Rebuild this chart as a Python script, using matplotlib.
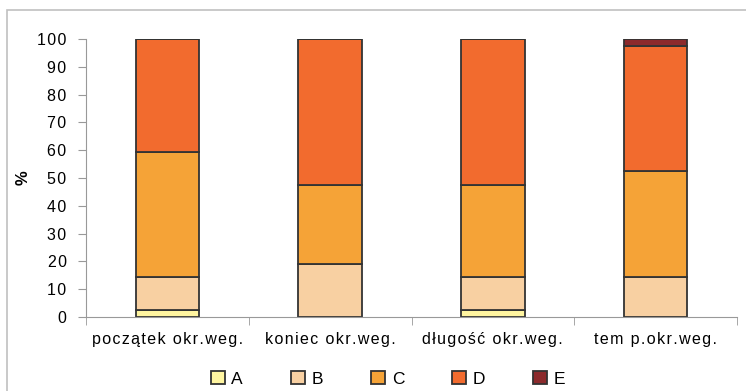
import numpy as np
import matplotlib.pyplot as plt
from matplotlib.patches import Rectangle

plt.rcParams['font.family'] = ['Liberation Sans', 'DejaVu Sans']

categories = ['początek okr.weg.', 'koniec okr.weg.', 'długość okr.weg.', 'tem p.okr.weg.']
series_names = ['A', 'B', 'C', 'D', 'E']
A = [2.4, 0.0, 2.4, 0.0]
B = [11.9, 19.0, 11.9, 14.3]
C = [45.2, 28.6, 33.3, 38.1]
D = [40.5, 52.4, 52.4, 45.2]
E = [0.0, 0.0, 0.0, 2.4]
colors = ['#fff5a0', '#f8d0a2', '#f5a337', '#f26b2e', '#8c2a2c']


def spaced(s):
    # widen the tracking a little with hair spaces
    return '\u200a'.join(s)


fig = plt.figure(figsize=(7.46, 3.91), dpi=100)
# outer chart border
fig.patches.append(Rectangle((7 / 746, -0.1), 1.2, 0.1 + (391 - 10) / 391,
                             transform=fig.transFigure, fill=False,
                             edgecolor='#c0c0c0', linewidth=1.2))

ax = fig.add_axes([86 / 746, 1 - 317 / 391, (737 - 86) / 746, (317 - 39) / 391])

x = np.arange(len(categories))
bottom = np.zeros(len(categories))
handles = []
for name, vals, col in zip(series_names, [A, B, C, D, E], colors):
    vals = np.array(vals)
    h = ax.bar(x, vals, width=0.39, bottom=bottom, color=col,
               edgecolor='#333333', linewidth=1.3, label=name)
    handles.append(h)
    bottom += vals

ax.set_xlim(-0.5, len(categories) - 0.5)
ax.set_ylim(0, 100)
yt = np.arange(0, 101, 10)
ax.set_yticks(yt)
ax.set_yticklabels([spaced(str(v)) for v in yt])
ax.set_xticks(x)
ax.set_xticklabels([spaced(c) for c in categories], fontsize=11.5)
ax.tick_params(axis='x', length=0, pad=11)
ax.set_xticks(np.arange(-0.5, len(categories), 1), minor=True)
ax.tick_params(axis='x', which='minor', length=6, color='#999999')
ax.tick_params(axis='y', length=6, color='#999999', labelsize=11.5, pad=8)

for side in ['top', 'right']:
    ax.spines[side].set_visible(False)
for side in ['left', 'bottom']:
    ax.spines[side].set_color('#999999')

ax.set_ylabel('%', fontsize=12, fontweight='bold')
ax.yaxis.set_label_coords(-0.085, 0.5)

fig.legend(handles=handles, labels=series_names, loc='center',
           bbox_to_anchor=(388 / 746, 1 - 379 / 391), ncol=5, frameon=False,
           fontsize=12.5, handlelength=0.8, handleheight=0.8, handletextpad=0.4,
           columnspacing=2.75)

fig.savefig('out.png', dpi=100)
